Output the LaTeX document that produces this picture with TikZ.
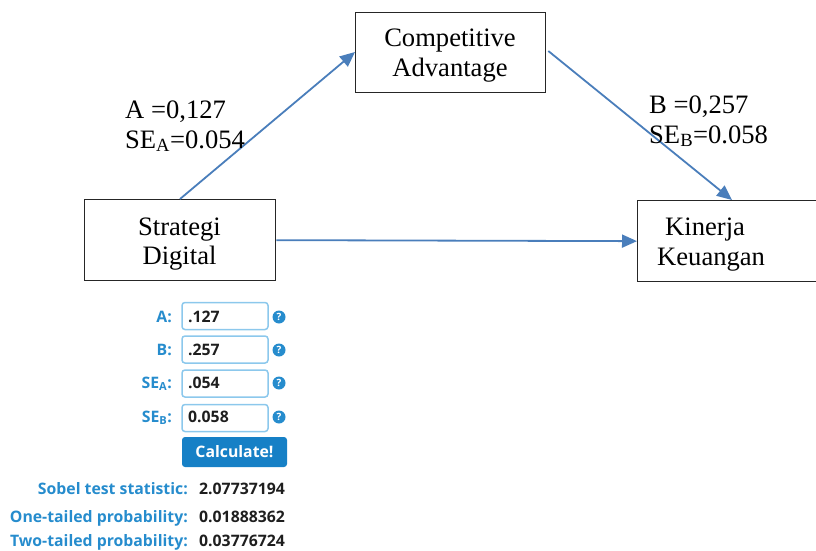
\documentclass[tikz,border=0pt]{standalone}
\usepackage{fontspec}
\setmainfont{Liberation Serif}
\newfontfamily\uifont{Open Sans}
\usetikzlibrary{arrows.meta,calc}
\definecolor{arrowblue}{RGB}{74,126,187}
\definecolor{lblblue}{RGB}{38,140,205}
\definecolor{btnblue}{RGB}{22,128,198}
\definecolor{inborder}{RGB}{140,200,236}
\definecolor{valdark}{RGB}{30,30,30}
\tikzset{
  varbox/.style={draw=black!85, line width=1.3pt, inner sep=0pt, anchor=north west},
  lbl/.style={font=\fontsize{26.6}{29}\selectfont, anchor=base west, inner sep=0pt},
  boxtxt/.style={font=\fontsize{26.6}{29}\selectfont, anchor=base, inner sep=0pt},
  conn/.style={draw=arrowblue, line width=1.8pt, -{Triangle[length=15pt,width=13pt]}},
  ui/.style={font=\uifont\bfseries\fontsize{15.8}{18}\selectfont, inner sep=0pt},
  uilbl/.style={ui, text=lblblue, anchor=base east},
  inbox/.style={draw=inborder, line width=1.5pt, rounded corners=3pt, minimum width=86pt, minimum height=27pt, inner sep=0pt},
  inval/.style={ui, text=valdark, anchor=base west},
  helpicon/.style={circle, fill=lblblue, minimum size=13pt, inner sep=0pt, text=white, font=\uifont\bfseries\fontsize{10}{10}\selectfont},
  btn/.style={fill=btnblue, rounded corners=3pt, minimum width=105pt, minimum height=30pt, inner sep=0pt, text=white, font=\uifont\bfseries\fontsize{15.8}{18}\selectfont}
}
\begin{document}
\begin{tikzpicture}[x=1pt,y=-1pt]
\useasboundingbox (0,0) rectangle (816,551);
% boxes
\node[varbox, minimum width=190pt, minimum height=80pt] (ca) at (355,12) {};
\node[varbox, minimum width=191pt, minimum height=81pt] (sd) at (84,199) {};
\node[varbox, minimum width=200pt, minimum height=81pt] (ki) at (637,200) {};
% box texts
\node[boxtxt] (ca1) at (450,47) {Competitive};
\node[boxtxt] (ca2) at (450,76) {Advantage};
\node[boxtxt] (sd1) at (179.5,235) {Strategi};
\node[boxtxt] (sd2) at (179.5,264) {Digital};
\node[lbl] (ki1) at (665,235) {Kinerja};
\node[lbl] (ki2) at (657,265) {Keuangan};
% connectors
\draw[conn] ($(sd.north west)+(96,0)$) -- ($(ca.north west)+(0,40)$);
\draw[conn] ($(ca.north east)+(2,39)$) -- ($(ki.north west)+(95,0)$);
\draw[conn] (sd.east) -- (ki.west);
% path labels
\node[lbl] (la1) at (125,118) {A =0,127};
\node[lbl] (la2) at (125,148) {SE\textsubscript{A}=0.054};
\node[lbl] (lb1) at (649,113) {B =0,257};
\node[lbl] (lb2) at (649,143) {SE\textsubscript{B}=0.058};
% calculator panel
\node[uilbl] (qa) at (172,322) {A:};
\node[uilbl] (qb) at (172,355) {B:};
\node[uilbl] (qsa) at (172,388) {SE\textsubscript{A}:};
\node[uilbl] (qsb) at (172,422) {SE\textsubscript{B}:};
\node[inbox] (ia) at (225,316) {};
\node[inbox] (ib) at (225,349.5) {};
\node[inbox] (isa) at (225,383.5) {};
\node[inbox] (isb) at (225,418) {};
\node[inval] (va) at (188,322) {.127};
\node[inval] (vb) at (188,355) {.257};
\node[inval] (vsa) at (188,388) {.054};
\node[inval] (vsb) at (188,422) {0.058};
\node[helpicon] (ha) at (279,317) {?};
\node[helpicon] (hb) at (279,350) {?};
\node[helpicon] (hsa) at (279,383) {?};
\node[helpicon] (hsb) at (279,417) {?};
\node[btn] (calc) at (234.5,452) {Calculate!};
\node[uilbl] (rs) at (188,494) {Sobel test statistic:};
\node[uilbl] (ro) at (188,522) {One-tailed probability:};
\node[uilbl] (rt) at (188,546) {Two-tailed probability:};
\node[inval] (rsv) at (199,494) {2.07737194};
\node[inval] (rov) at (199,522) {0.01888362};
\node[inval] (rtv) at (199,546) {0.03776724};
\end{tikzpicture}
\end{document}
